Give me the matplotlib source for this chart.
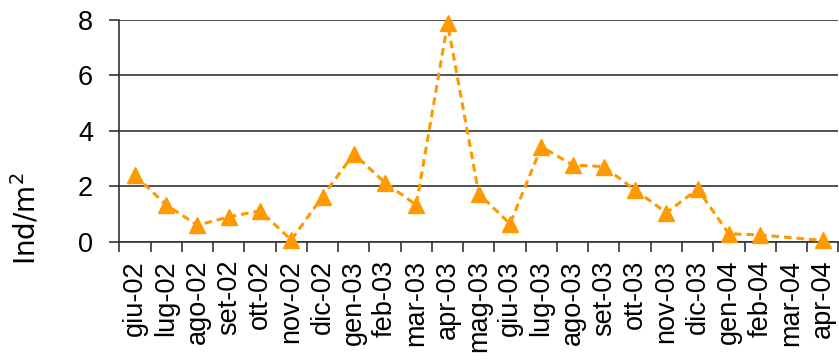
import numpy as np
import matplotlib
matplotlib.use("Agg")
import matplotlib.pyplot as plt

months = ["giu-02", "lug-02", "ago-02", "set-02", "ott-02", "nov-02", "dic-02",
          "gen-03", "feb-03", "mar-03", "apr-03", "mag-03", "giu-03", "lug-03",
          "ago-03", "set-03", "ott-03", "nov-03", "dic-03", "gen-04", "feb-04",
          "mar-04", "apr-04"]
density = [2.4, 1.33, 0.6, 0.9, 1.12, 0.07, 1.63,
           3.17, 2.13, 1.33, 7.87, 1.73, 0.65, 3.43,
           2.77, 2.71, 1.87, 1.05, 1.9, 0.29, 0.25,
           None, 0.05]
y_ticks = [0, 2, 4, 6, 8]

plt.rcParams["mathtext.fontset"] = "dejavusans"

fig = plt.figure(figsize=(8.39, 3.61), dpi=100)
ax = fig.add_axes([0.1422, 0.330, 0.857, 0.615])

# skip missing months so the line joins the neighbouring samples
xs = [i for i, v in enumerate(density) if v is not None]
ys = [v for v in density if v is not None]
ax.plot(xs, ys, color="#FF9900", lw=2.2, linestyle=(0, (2.5, 1.6)),
        marker="^", markersize=11, markerfacecolor="#FF9900",
        markeredgecolor="#FF9900", zorder=3, clip_on=False)

ax.set_xlim(-0.5, len(months) - 0.5)
ax.set_ylim(0, 8)
ax.set_yticks(y_ticks)
ax.set_yticklabels([str(t) for t in y_ticks], fontfamily="Liberation Sans", fontsize=19.5)
ax.yaxis.grid(True, color="#333333", lw=1.2)
ax.set_axisbelow(True)

ax.set_xticks(range(len(months)))
ax.set_xticklabels(months, rotation=90, fontfamily="Liberation Sans", fontsize=19.5)
ax.set_xticks(np.arange(-0.5, len(months)), minor=True)
ax.tick_params(axis="x", which="major", length=0, pad=13)
ax.tick_params(axis="x", which="minor", length=7, width=1.2, color="#333333", direction="out")
ax.tick_params(axis="y", length=7, width=1.2, color="#333333", pad=12)

for s in ("top", "right"):
    ax.spines[s].set_visible(False)
for s in ("left", "bottom"):
    ax.spines[s].set_color("#333333")
    ax.spines[s].set_linewidth(1.2)

fig.text(0.030, 0.393, r"Ind/m$^{\mathrm{2}}$", rotation=90, ha="center", va="center",
         fontfamily="DejaVu Sans", fontsize=20)

fig.savefig("out.png", dpi=100)
